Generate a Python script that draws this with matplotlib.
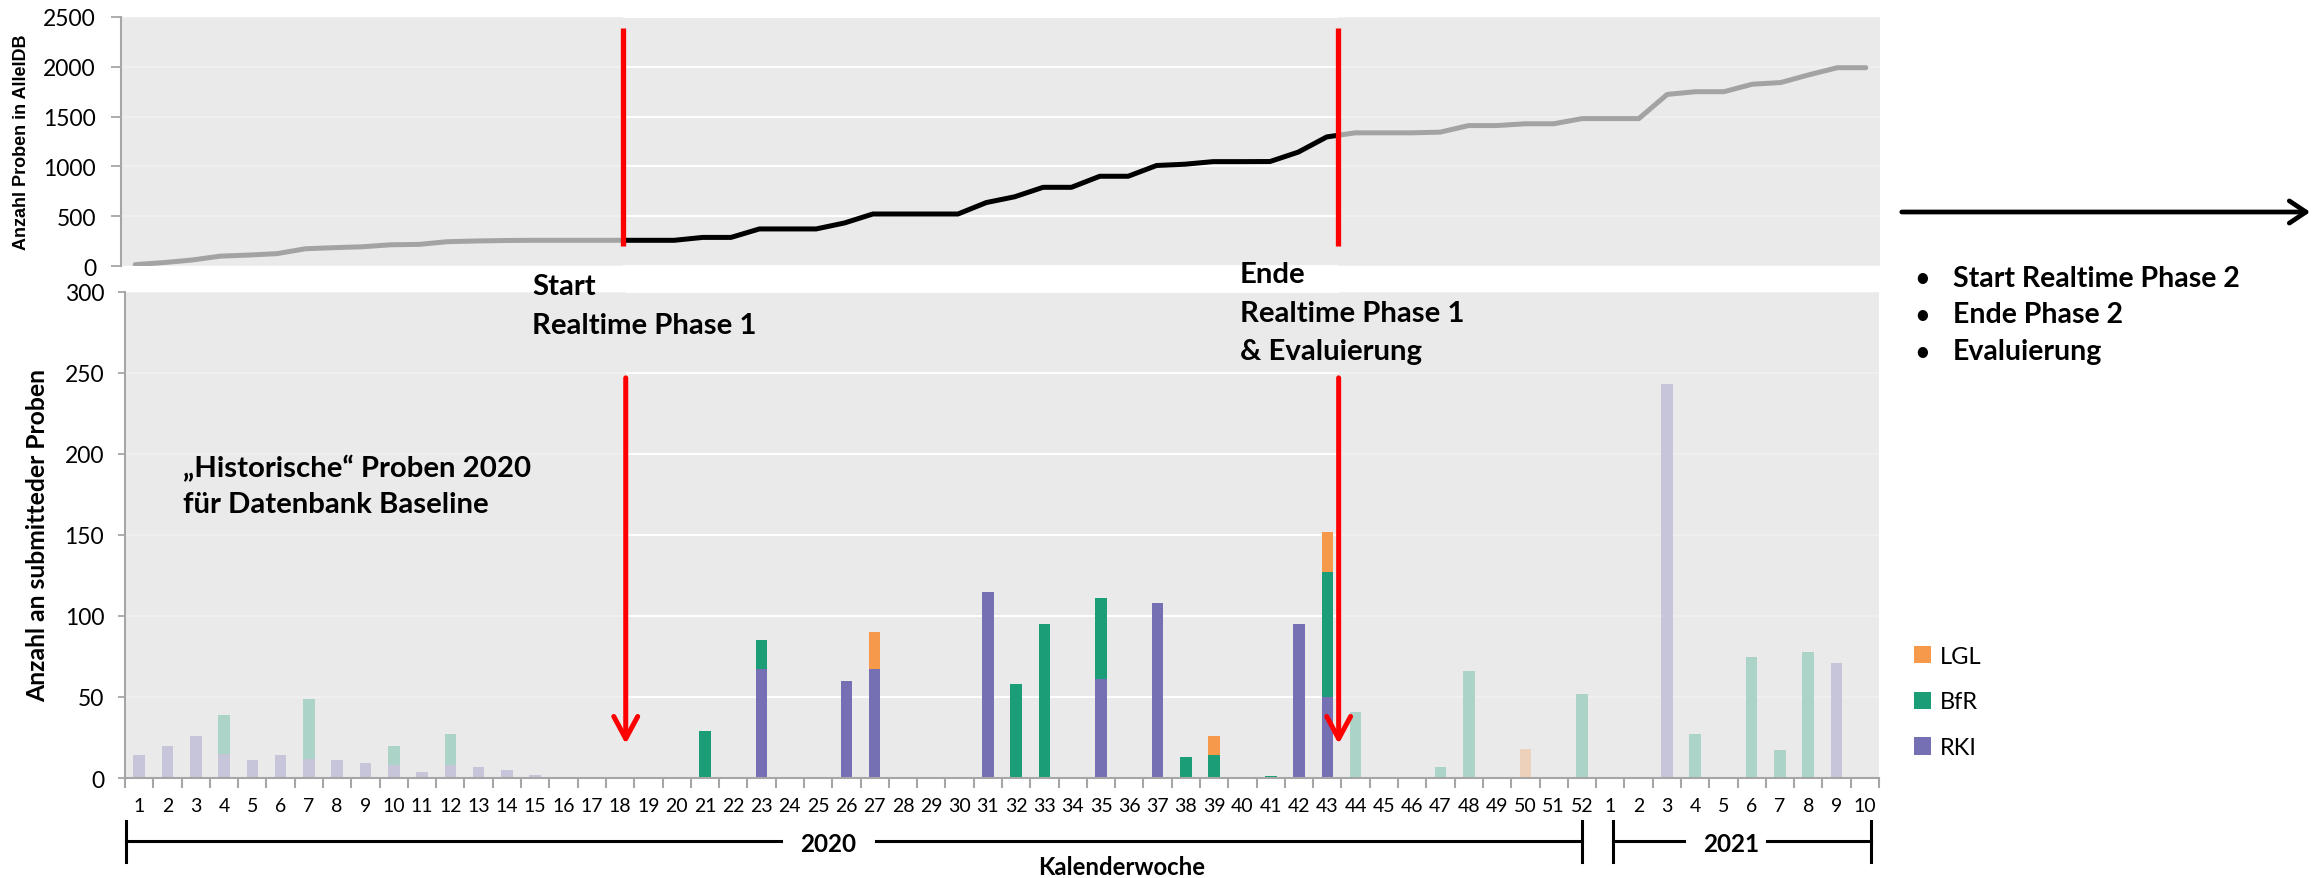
import numpy as np
import matplotlib
matplotlib.use("Agg")
import matplotlib.pyplot as plt
from matplotlib import transforms
from matplotlib.patches import FancyArrowPatch
from matplotlib.lines import Line2D

plt.rcParams['font.family'] = ['Lato', 'DejaVu Sans']

# ---------------------------------------------------------------- data
weeks_2020 = list(range(1, 53))
weeks_2021 = list(range(1, 11))
week_labels = [str(w) for w in weeks_2020 + weeks_2021]

# submitted samples per calendar week and institute
rki_2020 = [14, 20, 26, 15, 11, 14, 12, 11, 9, 8,
            4, 8, 7, 5, 2, 0, 0, 0, 0, 0,
            0, 0, 67, 0, 0, 60, 67, 0, 0, 0,
            115, 0, 0, 0, 61, 0, 108, 0, 0, 0,
            0, 95, 50, 0, 0, 0, 0, 0, 0, 0,
            0, 0]
rki_2021 = [0, 0, 243, 0, 0, 0, 0, 0, 71, 0]

bfr_2020 = [0, 0, 0, 24, 0, 0, 37, 0, 0, 12,
            0, 19, 0, 0, 0, 0, 0, 0, 0, 0,
            29, 0, 18, 0, 0, 0, 0, 0, 0, 0,
            0, 58, 95, 0, 50, 0, 0, 13, 14, 0,
            1, 0, 77, 41, 0, 0, 7, 66, 0, 0,
            0, 52]
bfr_2021 = [0, 0, 0, 27, 0, 75, 17, 78, 0, 0]

lgl_2020 = [0, 0, 0, 0, 0, 0, 0, 0, 0, 0,
            0, 0, 0, 0, 0, 0, 0, 0, 0, 0,
            0, 0, 0, 0, 0, 0, 23, 0, 0, 0,
            0, 0, 0, 0, 0, 0, 0, 0, 12, 0,
            0, 0, 25, 0, 0, 0, 0, 0, 0, 18,
            0, 0]
lgl_2021 = [0, 0, 0, 0, 0, 0, 0, 0, 0, 0]

# running total of samples in the database
alleidb_2020 = [14, 34, 60, 99, 110, 124, 173, 184, 193, 213,
                217, 244, 251, 256, 258, 258, 258, 258, 258, 258,
                287, 287, 372, 372, 372, 432, 522, 522, 522, 522,
                637, 695, 790, 790, 901, 901, 1009, 1022, 1048, 1048,
                1049, 1144, 1296, 1337, 1337, 1337, 1344, 1410, 1410, 1428,
                1428, 1480]
alleidb_2021 = [1480, 1480, 1723, 1750, 1750, 1825, 1842, 1920, 1991, 1991]

phase2_items = ["Start Realtime Phase 2", "Ende Phase 2", "Evaluierung"]

rki = np.array(rki_2020 + rki_2021)
bfr = np.array(bfr_2020 + bfr_2021)
lgl = np.array(lgl_2020 + lgl_2021)
alleidb = np.array(alleidb_2020 + alleidb_2021)
x = np.arange(len(week_labels))

# phase 1 boundaries on the week axis (index positions)
PHASE1_START = 17.2
PHASE1_END = 42.4

# ---------------------------------------------------------------- style
BG = '#EAEAEA'
SPINE = '#A6A6A6'
C_RKI = '#7570B3'
C_BFR = '#1B9E77'
C_LGL = '#F7994A'

W, H = 2323, 879
fig = plt.figure(figsize=(W / 100, H / 100), dpi=100)


def fx(px):
    return px / W


def fy(py):
    return 1 - py / H


ax_top = fig.add_axes([fx(121), fy(267), fx(1880) - fx(121), fy(18) - fy(267)])
ax_bar = fig.add_axes([fx(125), fy(779), fx(1879) - fx(125), fy(293) - fy(779)])

for ax in (ax_top, ax_bar):
    ax.set_facecolor(BG)
    ax.set_axisbelow(True)
    ax.spines['top'].set_visible(False)
    ax.spines['right'].set_visible(False)
    for s in ('left', 'bottom'):
        ax.spines[s].set_color(SPINE)
        ax.spines[s].set_linewidth(1.5)
        ax.spines[s].set_zorder(5)
    ax.set_xlim(-0.5, len(x) - 0.5)
    ax.grid(axis='y', color='white', lw=1.4)
    # faded background phases outside realtime phase 1
    ax.axvspan(-0.5, PHASE1_START, color=BG, alpha=0.7, lw=0, zorder=3)
    ax.axvspan(PHASE1_END, len(x) - 0.5, color=BG, alpha=0.7, lw=0, zorder=3)

# ---------------------------------------------------------------- top panel
ax_top.plot(x, alleidb, color='black', lw=3.6, solid_capstyle='round',
            solid_joinstyle='round', zorder=2)
ax_top.set_ylim(0, 2500)
ax_top.set_yticks(np.arange(0, 2501, 500))
ax_top.spines['bottom'].set_visible(False)
ax_top.tick_params(axis='x', bottom=False, labelbottom=False)
ax_top.tick_params(axis='y', length=7, width=1.3, color=SPINE, pad=11,
                   labelsize=16.5)
for p in (PHASE1_START, PHASE1_END):
    ax_top.plot([p, p], [200, 2390], color='red', lw=3.8, zorder=6,
                solid_capstyle='butt')

# ---------------------------------------------------------------- bar panel
bw = 0.41
b_rki = ax_bar.bar(x, rki, width=bw, color=C_RKI, zorder=2, label='RKI')
b_bfr = ax_bar.bar(x, bfr, width=bw, bottom=rki, color=C_BFR, zorder=2, label='BfR')
b_lgl = ax_bar.bar(x, lgl, width=bw, bottom=rki + bfr, color=C_LGL, zorder=2,
                   label='LGL')
ax_bar.set_ylim(0, 300)
ax_bar.set_yticks(np.arange(0, 301, 50))
ax_bar.tick_params(axis='y', length=5, width=1.3, color=SPINE, pad=10,
                   labelsize=16.5)
ax_bar.set_xticks(np.arange(len(x) + 1) - 0.5)
ax_bar.set_xticklabels([])
ax_bar.set_xticks(x, minor=True)
ax_bar.set_xticklabels(week_labels, minor=True)
ax_bar.tick_params(axis='x', which='major', length=7, width=1.5, color=SPINE)
ax_bar.tick_params(axis='x', which='minor', length=0, pad=14, labelsize=14)

for p in (PHASE1_START, PHASE1_END):
    ax_bar.annotate('', xy=(p, 21), xytext=(p, 247), zorder=6,
                    arrowprops=dict(arrowstyle='->,head_length=0.8,head_width=0.43',
                                    mutation_scale=20, color='red', lw=3.6,
                                    shrinkA=0, shrinkB=0))

ax_bar.legend(handles=[b_lgl, b_bfr, b_rki], loc='center left',
              bbox_to_anchor=(fx(1914), fy(703)), bbox_transform=fig.transFigure,
              frameon=False, fontsize=17, handlelength=0.7, handleheight=0.75,
              handletextpad=0.4, labelspacing=1.05, borderpad=0, borderaxespad=0)

# ---------------------------------------------------------------- axis titles
fig.text(fx(22), fy(142), 'Anzahl Proben in AlleIDB', rotation=90, ha='center',
         va='center', fontsize=13, fontweight='bold', family='Liberation Sans')
fig.text(fx(38), fy(535), 'Anzahl an submitteder Proben', rotation=90,
         ha='center', va='center', fontsize=17.8, fontweight='bold')

# year brackets under the week axis
trans = transforms.blended_transform_factory(ax_bar.transData, fig.transFigure)
y_br, y_b0, y_b1 = fy(842), fy(822), fy(863)
for x0, x1 in ((-0.45, 22.7), (26.05, 51.0), (52.1, 54.6), (57.55, 61.2)):
    fig.add_artist(Line2D([x0, x1], [y_br, y_br], transform=trans,
                          color='black', lw=2.2))
for xv in (-0.45, 51.0, 52.1, 61.2):
    fig.add_artist(Line2D([xv, xv], [y_b0, y_b1], transform=trans,
                          color='black', lw=2.2))
fig.text(24.35, fy(852), '2020', transform=trans, ha='center', va='baseline',
         fontsize=17.5, fontweight='bold')
fig.text(56.27, fy(852), '2021', transform=trans, ha='center', va='baseline',
         fontsize=17.5, fontweight='bold')
fig.text(34.74, fy(875), 'Kalenderwoche', transform=trans, ha='center',
         va='baseline', fontsize=17.2, fontweight='bold')

# ---------------------------------------------------------------- annotations
ann = dict(ha='left', va='baseline', fontsize=21.2, fontweight='bold')
fig.text(fx(532), fy(295), 'Start', **ann)
fig.text(fx(532), fy(334), 'Realtime Phase 1', **ann)
fig.text(fx(1240), fy(283), 'Ende', **ann)
fig.text(fx(1240), fy(322), 'Realtime Phase 1', **ann)
fig.text(fx(1240), fy(360), '& Evaluierung', **ann)
fig.text(fx(183), fy(477), '„Historische“ Proben 2020', **ann)
fig.text(fx(183), fy(513), 'für Datenbank Baseline', **ann)

fig.add_artist(FancyArrowPatch((fx(1899), fy(213)), (fx(2313), fy(213)),
                               transform=fig.transFigure,
                               arrowstyle='->,head_length=0.6,head_width=0.4',
                               mutation_scale=20, color='black', lw=3.4))
for i, item in enumerate(phase2_items):
    yb = 287 + 36.5 * i
    fig.text(fx(1922), fy(yb - 10), '•', ha='center', va='center_baseline',
             fontsize=17, fontweight='bold')
    fig.text(fx(1953), fy(yb), item, ha='left', va='baseline', fontsize=20.5,
             fontweight='bold')

fig.savefig('out.png', dpi=100)
